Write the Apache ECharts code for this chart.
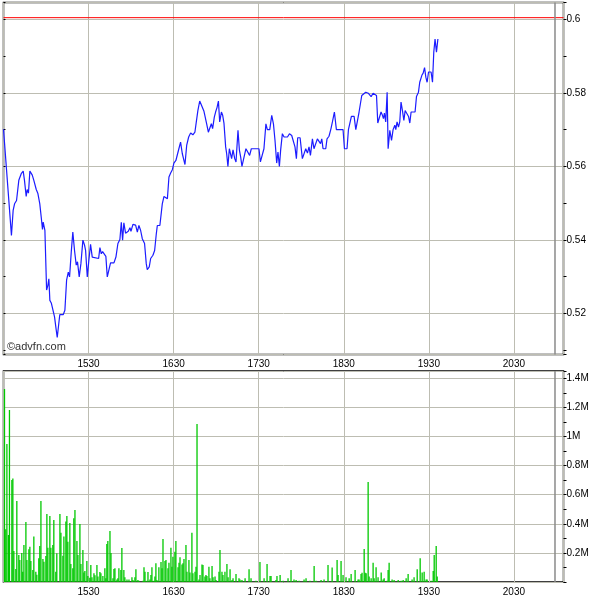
<!DOCTYPE html>
<html><head><meta charset="utf-8">
<script src="https://cdn.jsdelivr.net/npm/echarts@6/dist/echarts.min.js"></script>
<style>html,body{margin:0;padding:0;background:#fff}#c{width:600px;height:600px}</style>
</head><body><div id="c"></div>
<script>
// time is minutes after midnight; session starts 14:30
const sessionStart = 870;
const axisStart = 870;
const axisEnd = 1265;
const tickStep = 60;
const closeMinute = 1259;
const refPrice = 0.6005;
const priceMin = 0.50876;
const priceMax = 0.60463;
const volumeMax = 1450000;
const volumeStep = 200000;

// minutes after 14:30
const priceMinutes = [
0,0.7,5.6,6.8,7.8,9.2,10.8,12.5,13.9,14.8,
16.0,16.7,17.6,18.6,20.3,21.4,23.1,24.2,25.6,26.6,
27.5,28.0,29.2,30.4,31.3,32.0,32.7,33.7,34.8,36.0,
37.2,37.9,39.0,39.7,42.1,43.3,44.5,45.7,46.6,47.8,
48.9,50.1,51.3,52.2,53.4,54.6,56.0,57.2,57.9,59.1,
60.2,61.4,62.6,63.7,67.1,68.0,69.0,69.9,71.3,72.2,
73.2,74.6,75.5,77.9,79.3,80.7,82.1,83.1,84.0,84.9,
86.1,88.0,89.2,89.9,91.3,93.2,94.4,95.5,96.7,97.9,
99.5,100.7,101.4,102.8,103.8,105.4,106.6,107.8,108.5,110.3,
112.0,113.2,114.4,115.6,116.7,117.9,119.1,120.2,121.6,122.6,
123.7,124.9,126.1,128.0,129.2,130.6,132.0,133.6,135.0,136.0,
137.1,138.4,139.8,141.4,142.4,143.3,144.5,145.4,146.6,147.5,
148.7,149.6,150.6,151.6,152.5,153.7,154.6,155.5,156.7,157.4,
158.3,159.3,160.2,160.9,161.9,163.1,164.0,165.4,166.4,167.3,
168.2,169.6,171.0,172.4,173.6,174.8,180.2,181.2,182.6,183.7,
185.1,186.1,187.8,189.2,190.4,191.5,192.7,193.6,194.6,195.5,
196.7,197.9,200.3,201.7,202.6,203.3,204.2,205.6,206.6,207.5,
209.2,210.8,212.0,213.2,214.4,215.5,216.5,217.9,219.0,220.2,
221.4,222.6,223.6,224.5,225.4,227.3,228.2,229.6,231.0,232.0,
233.4,234.8,239.5,240.5,242.3,243.3,244.7,245.4,247.3,248.5,
249.7,250.8,251.8,252.7,254.1,255.5,256.4,257.4,258.4,259.3,
260.7,262.1,263.1,264.0,265.4,266.3,267.3,268.0,268.7,269.6,
270.6,271.3,272.5,273.7,274.8,276.0,276.7,277.6,278.6,279.5,
280.4,281.4,282.4,283.3,284.7,285.7,286.6,287.5,290.3,291.3,
292.7,293.6,295.1,296.0,297.0,297.9,298.8,299.8,301.6,302.6,
303.5,304.4,305.4,306.4];

const prices = [
0.5701,0.5701,0.5412,0.5480,0.5498,0.5507,0.5562,0.5580,0.5587,0.5562,
0.5518,0.5537,0.5527,0.5587,0.5576,0.5562,0.5537,0.5527,0.5498,0.5462,
0.5428,0.5448,0.5426,0.5263,0.5276,0.5294,0.5235,0.5228,0.5228,0.5190,
0.5154,0.5134,0.5172,0.5196,0.5196,0.5208,0.5290,0.5312,0.5299,0.5367,
0.5421,0.5371,0.5331,0.5340,0.5299,0.5335,0.5399,0.5385,0.5371,0.5299,
0.5344,0.5388,0.5353,0.5349,0.5349,0.5379,0.5362,0.5368,0.5367,0.5355,
0.5299,0.5301,0.5337,0.5337,0.5353,0.5390,0.5401,0.5448,0.5399,0.5446,
0.5418,0.5423,0.5433,0.5423,0.5442,0.5440,0.5421,0.5439,0.5426,0.5403,
0.5390,0.5335,0.5319,0.5326,0.5349,0.5358,0.5371,0.5417,0.5439,0.5439,
0.5498,0.5518,0.5516,0.5512,0.5571,0.5582,0.5591,0.5609,0.5616,0.5621,
0.5648,0.5666,0.5635,0.5605,0.5657,0.5680,0.5691,0.5686,0.5693,0.5721,
0.5752,0.5778,0.5778,0.5750,0.5745,0.5716,0.5693,0.5689,0.5716,0.5703,
0.5734,0.5748,0.5760,0.5778,0.5721,0.5748,0.5739,0.5718,0.5653,0.5635,
0.5600,0.5648,0.5648,0.5621,0.5645,0.5621,0.5612,0.5698,0.5644,0.5625,
0.5600,0.5603,0.5648,0.5648,0.5630,0.5648,0.5648,0.5612,0.5612,0.5648,
0.5716,0.5700,0.5700,0.5739,0.5716,0.5671,0.5609,0.5639,0.5600,0.5645,
0.5689,0.5680,0.5680,0.5689,0.5689,0.5684,0.5682,0.5653,0.5621,0.5678,
0.5678,0.5621,0.5621,0.5648,0.5636,0.5653,0.5630,0.5675,0.5648,0.5648,
0.5675,0.5675,0.5662,0.5675,0.5648,0.5648,0.5675,0.5682,0.5703,0.5721,
0.5748,0.5700,0.5700,0.5648,0.5648,0.5700,0.5700,0.5736,0.5736,0.5700,
0.5700,0.5748,0.5752,0.5793,0.5798,0.5802,0.5807,0.5799,0.5802,0.5790,
0.5799,0.5802,0.5793,0.5718,0.5718,0.5748,0.5739,0.5730,0.5745,0.5721,
0.5802,0.5648,0.5698,0.5671,0.5700,0.5712,0.5700,0.5721,0.5707,0.5721,
0.5775,0.5752,0.5725,0.5752,0.5752,0.5736,0.5718,0.5748,0.5748,0.5790,
0.5802,0.5829,0.5848,0.5854,0.5869,0.5843,0.5829,0.5857,0.5857,0.5829,
0.5911,0.5947,0.5911,0.5947];

// minutes after 14:30
const volMinutes = [
0.7,1.6,2.4,3.5,4.2,5.9,6.6,7.3,8.7,9.4,
10.8,11.5,12.9,13.6,14.4,15.8,16.5,17.9,18.6,19.3,
20.7,21.4,22.8,23.5,24.9,25.6,26.4,27.8,28.5,29.9,
30.6,31.3,32.7,33.4,34.8,35.5,36.9,37.6,39.8,40.5,
41.9,42.6,44.0,44.7,45.4,46.8,47.5,48.9,49.6,50.4,
51.8,52.5,53.9,54.6,56.0,56.7,57.4,58.8,59.5,60.9,
61.6,62.4,63.8,64.5,65.9,66.6,68.0,68.7,70.1,71.5,
72.2,72.9,73.6,75.1,75.8,77.2,77.9,78.6,80.0,80.7,
81.4,82.8,83.5,84.9,85.6,87.1,88.5,90.6,91.3,92.7,
93.4,94.8,95.5,98.4,99.1,99.8,101.2,101.9,103.3,104.0,
104.7,106.1,106.8,107.5,108.2,109.6,111.1,111.8,112.5,113.9,
114.6,116.0,116.7,118.1,118.8,119.5,120.9,121.6,123.1,123.8,
124.5,125.9,126.6,127.3,128.7,129.4,130.8,131.5,132.9,133.6,
135.1,135.8,136.5,137.9,138.6,140.0,140.7,142.1,142.8,143.5,
144.9,145.6,147.1,147.8,149.2,149.9,152.0,152.7,154.1,154.8,
156.2,157.6,158.4,159.8,161.2,161.9,164.0,166.1,166.8,168.2,
170.4,173.2,174.6,178.1,180.9,183.8,185.9,188.0,188.7,192.2,
192.9,195.1,197.2,200.7,202.8,204.9,206.4,208.5,212.0,213.4,
216.2,219.1,220.5,224.0,226.1,228.9,231.8,235.3,236.0,238.1,
239.5,241.6,243.8,245.2,248.0,250.1,250.8,252.2,252.9,254.4,
255.1,255.8,257.2,257.9,259.3,260.7,261.4,262.8,264.2,266.4,
267.8,268.5,270.6,271.3,272.0,274.1,275.5,278.4,280.5,281.9,
284.0,285.4,288.2,289.6,291.8,293.9,295.3,296.7,298.1,298.8,
301.6,303.1,303.8,305.2,305.9];

// volume in thousands of shares
const volumesK = [
1326,362,948,323,1182,701,712,213,89,557,
186,151,199,71,254,412,151,225,243,144,
82,312,71,50,163,247,557,158,140,179,
467,236,454,236,254,426,71,197,467,339,
181,312,415,454,277,405,124,94,438,495,
282,186,399,124,220,66,76,144,41,30,
117,32,60,46,117,37,69,60,41,94,
25,261,282,351,199,25,89,94,18,25,
94,82,234,82,32,18,18,32,14,32,
87,14,9,9,101,71,9,69,18,48,
101,9,37,128,14,101,137,94,296,144,
151,94,133,236,105,174,208,282,101,133,
170,121,128,158,254,71,151,66,339,60,
71,105,1086,18,48,121,117,37,48,41,
105,25,110,32,37,14,71,220,71,48,
71,124,32,87,14,25,55,25,18,14,
25,87,25,9,137,25,124,41,41,14,
41,48,9,25,82,18,14,9,18,25,
9,110,9,14,18,117,99,151,48,144,
48,32,25,55,82,18,18,55,64,227,
64,60,687,37,25,133,25,101,32,66,
18,25,9,82,133,18,14,14,9,14,
25,55,18,32,87,163,66,71,18,18,
9,76,186,247,37];

const FONT = 'Liberation Sans, Arial, sans-serif';
const GRIDC = '#bdbdb2';

function hhmm(v) {
  const h = Math.floor(v / 60), m = Math.round(v % 60);
  return String(h) + String(m).padStart(2, '0');
}
function timeLabel(v) {
  const k = (v - axisStart) / tickStep;
  if (v <= axisStart || Math.abs(k - Math.round(k)) > 1e-6) return '';
  return hhmm(v);
}
function priceLabel(v) {
  const k = v / 0.02;
  if (Math.abs(k - Math.round(k)) > 1e-6) return '';
  return String(+v.toFixed(2));
}
function volLabel(v) {
  const k = v / volumeStep;
  if (v <= 0 || Math.abs(k - Math.round(k)) > 1e-6) return '';
  return String(+(v / 1e6).toFixed(1)) + 'M';
}

const priceData = priceMinutes.map((m, i) => [sessionStart + m, prices[i]]);
const volData = volMinutes.map((m, i) => [sessionStart + m, volumesK[i] * 1000]);

const chart = echarts.init(document.getElementById('c'), null, { renderer: 'canvas' });

const xCommon = {
  type: 'value', min: axisStart, max: axisEnd, interval: tickStep,
  axisLine: { show: false }, axisTick: { show: false },
  splitLine: { show: true, lineStyle: { color: GRIDC, width: 1 } },
  axisLabel: { formatter: timeLabel, fontFamily: FONT, fontSize: 10, color: '#000', margin: 5 }
};

function guide(xIdx, yIdx, pts, color, width) {
  return { type: 'line', xAxisIndex: xIdx, yAxisIndex: yIdx, data: pts, silent: true,
    showSymbol: false, symbol: 'none', z: 3,
    lineStyle: { color: color, width: width, type: 'solid' } };
}

chart.setOption({
  animation: false,
  backgroundColor: '#fff',
  grid: [
    { left: 3.5, top: 2.5, width: 560, height: 352, show: true, borderColor: '#000', borderWidth: 1.5, backgroundColor: '#fff' },
    { left: 3.5, top: 371, width: 560, height: 211, show: true, borderColor: '#000', borderWidth: 1.5, backgroundColor: '#fff' }
  ],
  xAxis: [
    Object.assign({}, xCommon, { gridIndex: 0, position: 'bottom' }),
    Object.assign({}, xCommon, { gridIndex: 1, position: 'bottom' })
  ],
  yAxis: [
    { type: 'value', gridIndex: 0, position: 'right', min: priceMin, max: priceMax, splitNumber: 5,
      axisLine: { show: false },
      axisTick: { show: true, length: 3, lineStyle: { color: '#000' } },
      minorTick: { show: true, splitNumber: 2, length: 3, lineStyle: { color: '#000' } },
      splitLine: { show: true, lineStyle: { color: GRIDC, width: 1 } },
      axisLabel: { formatter: priceLabel, fontFamily: FONT, fontSize: 10, color: '#000', margin: 3 } },
    { type: 'value', gridIndex: 0, position: 'left', min: priceMin, max: priceMax, splitNumber: 5,
      axisLine: { show: false },
      axisTick: { show: true, inside: true, length: 2, lineStyle: { color: '#000' } },
      minorTick: { show: true, splitNumber: 2, length: 2, lineStyle: { color: '#000' } },
      splitLine: { show: false }, axisLabel: { show: false } },
    { type: 'value', gridIndex: 1, position: 'right', min: 0, max: volumeMax, interval: volumeStep,
      axisLine: { show: false },
      axisTick: { show: true, length: 3, lineStyle: { color: '#000' } },
      minorTick: { show: true, splitNumber: 2, length: 3, lineStyle: { color: '#000' } },
      splitLine: { show: true, lineStyle: { color: GRIDC, width: 1 } },
      axisLabel: { formatter: volLabel, fontFamily: FONT, fontSize: 10, color: '#000', margin: 3 } }
  ],
  graphic: [
    { type: 'text', left: 7, top: 341, z: 100,
      style: { text: '\u00A9advfn.com', font: '11px ' + FONT, fill: '#333' } }
  ],
  series: [
    guide(0, 0, [[axisStart, refPrice], [axisEnd, refPrice]], '#ff0000', 1),
    guide(0, 0, [[closeMinute, priceMin], [closeMinute, priceMax]], '#8a8a8a', 1.5),
    guide(1, 2, [[closeMinute, 0], [closeMinute, volumeMax]], '#8a8a8a', 1.5),
    { type: 'line', name: 'Price', xAxisIndex: 0, yAxisIndex: 0, data: priceData,
      showSymbol: false, symbol: 'none', z: 5,
      lineStyle: { color: '#1c1cff', width: 1.2 } },
    { type: 'bar', name: 'Volume', xAxisIndex: 1, yAxisIndex: 2, data: volData,
      barWidth: 1.3, itemStyle: { color: '#00c800' } }
  ]
});
</script>
</body></html>
